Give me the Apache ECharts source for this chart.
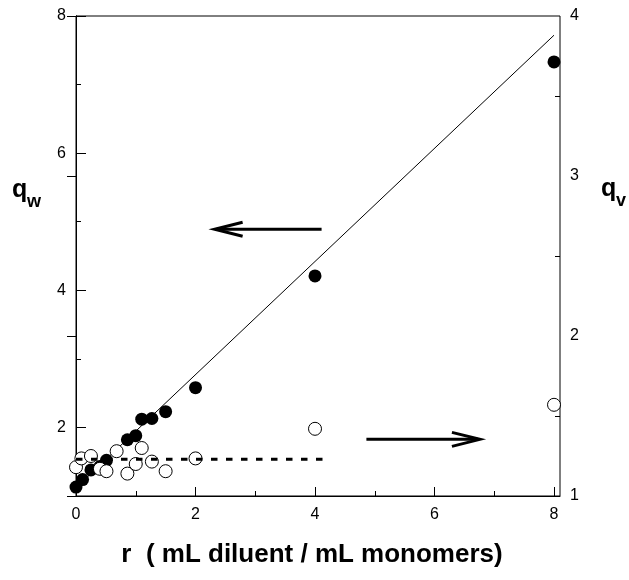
<!DOCTYPE html>
<html>
<head>
<meta charset="utf-8">
<script src="https://cdn.jsdelivr.net/npm/echarts@6/dist/echarts.min.js"></script>
<style>
  html, body { margin: 0; padding: 0; background: #fff; }
  #chart { width: 629px; height: 580px; }
</style>
</head>
<body>
<div id="chart"></div>
<script>
// Dilution ratio r (mL diluent / mL monomers)
const R_QW = [0, 0.11, 0.25, 0.4, 0.51, 0.86, 1.0, 1.1, 1.27, 1.5, 2.0, 4.0, 8.0];
// Weight swelling ratio q_w (left axis)
const QW = [1.13, 1.24, 1.38, 1.43, 1.52, 1.82, 1.88, 2.12, 2.13, 2.23, 2.58, 4.21, 7.33];

const R_QV = [0, 0.09, 0.25, 0.4, 0.51, 0.68, 0.86, 1.0, 1.1, 1.27, 1.5, 2.0, 4.0, 8.0];
// Volume swelling ratio q_v (right axis)
const QV = [1.18, 1.235, 1.25, 1.17, 1.155, 1.28, 1.14, 1.20, 1.30, 1.215, 1.155, 1.235, 1.42, 1.57];

// Linear fit of q_w and mean level of q_v
const FIT_R = [0, 8];
const FIT_QW = [1.12, 7.72];
const MEAN_R = [0, 4.22];
const MEAN_QV = [1.23, 1.23];

// Arrows pointing at the axis each series belongs to: [fromR, fromQ, toR, toQ]
const ARROW_QW = [[4.11, 4.89, 2.32, 4.89]];
const ARROW_QV = [[4.86, 1.354, 6.76, 1.354]];

// Axis ticks and labels
const X_TICKS = [0, 2, 4, 6, 8];
const X_MINOR = [1, 3, 5, 7];
const QW_TICKS = [2, 4, 6, 8];
const QW_MINOR = [3, 5, 7];
const QV_TICKS = [1, 2, 3, 4];
const QV_MINOR = [1.5, 2.5, 3.5];

const zip = (xs, ys) => xs.map((x, i) => [x, ys[i]]);

const FONT = '"Liberation Sans", Arial, Helvetica, sans-serif';
const labelStyle = { color: '#000', fontSize: 16, fontFamily: FONT };

function renderArrow(params, api) {
  const a = api.coord([api.value(0), api.value(1)]);
  const b = api.coord([api.value(2), api.value(3)]);
  const dx = b[0] - a[0], dy = b[1] - a[1];
  const len = Math.hypot(dx, dy);
  const ux = dx / len, uy = dy / len;
  const headLen = 28, headHalf = 7;
  const back = [b[0] - ux * headLen, b[1] - uy * headLen];
  const p1 = [back[0] - uy * headHalf, back[1] + ux * headHalf];
  const p2 = [back[0] + uy * headHalf, back[1] - ux * headHalf];
  return {
    type: 'group',
    children: [
      { type: 'line', shape: { x1: a[0], y1: a[1], x2: b[0] - ux * 2, y2: b[1] - uy * 2 },
        style: { stroke: '#000', lineWidth: 3 } },
      { type: 'polyline', shape: { points: [p1, b, p2] },
        style: { stroke: '#000', lineWidth: 3, fill: null, lineJoin: 'miter' } }
    ]
  };
}

const chart = echarts.init(document.getElementById('chart'), null, { renderer: 'canvas' });

const xBase = { type: 'value', min: 0, max: 8.1, position: 'bottom', splitLine: { show: false } };
const majorTick = (vals, len) => ({ show: true, inside: true, length: len, customValues: vals,
  lineStyle: { color: '#000', width: 1 } });

chart.setOption({
  animation: false,
  backgroundColor: '#fff',
  grid: { left: 76, right: 69, top: 16, bottom: 84, show: true, borderColor: '#000', borderWidth: 1,
          containLabel: false },
  xAxis: [
    Object.assign({}, xBase, {
      axisLine: { show: true, lineStyle: { color: '#000', width: 1 } },
      axisTick: majorTick(X_TICKS, 9),
      axisLabel: Object.assign({ customValues: X_TICKS, margin: 11 }, labelStyle)
    }),
    Object.assign({}, xBase, {
      axisLine: { show: false },
      axisTick: majorTick(X_MINOR, 5),
      axisLabel: { show: false }
    })
  ],
  yAxis: [
    { type: 'value', min: 1, max: 8, position: 'left', splitLine: { show: false },
      axisLine: { show: true, lineStyle: { color: '#000', width: 1 } },
      axisTick: majorTick(QW_TICKS, 10),
      axisLabel: Object.assign({ customValues: QW_TICKS, margin: 10 }, labelStyle) },
    { type: 'value', min: 1, max: 4, position: 'right', splitLine: { show: false },
      axisLine: { show: true, lineStyle: { color: '#000', width: 1 } },
      axisTick: majorTick(QV_TICKS, 9),
      axisLabel: Object.assign({ customValues: QV_TICKS, margin: 10 }, labelStyle) },
    { type: 'value', min: 1, max: 8, position: 'left', splitLine: { show: false },
      axisLine: { show: false }, axisTick: majorTick(QW_MINOR, 5), axisLabel: { show: false } },
    { type: 'value', min: 1, max: 4, position: 'right', splitLine: { show: false },
      axisLine: { show: false }, axisTick: majorTick(QV_MINOR, 5), axisLabel: { show: false } }
  ],
  series: [
    { name: 'fit q_w', type: 'line', xAxisIndex: 0, yAxisIndex: 0, data: zip(FIT_R, FIT_QW),
      showSymbol: false, symbol: 'none', lineStyle: { color: '#000', width: 1 }, z: 2 },
    { name: 'q_w', type: 'scatter', xAxisIndex: 0, yAxisIndex: 0, data: zip(R_QW, QW),
      symbol: 'circle', symbolSize: 13, itemStyle: { color: '#000', opacity: 1 }, z: 3 },
    { name: 'q_v', type: 'scatter', xAxisIndex: 0, yAxisIndex: 1, data: zip(R_QV, QV),
      symbol: 'circle', symbolSize: 13,
      itemStyle: { color: '#fff', borderColor: '#000', borderWidth: 1, opacity: 1 }, z: 4 },
    { name: 'mean q_v', type: 'line', xAxisIndex: 0, yAxisIndex: 1, data: zip(MEAN_R, MEAN_QV),
      showSymbol: false, symbol: 'none',
      lineStyle: { color: '#000', width: 3, type: [6.5, 8.5], cap: 'butt' }, z: 5 },
    { name: 'arrow q_w', type: 'custom', xAxisIndex: 0, yAxisIndex: 0, data: ARROW_QW,
      encode: { x: [0, 2], y: [1, 3] }, renderItem: renderArrow, z: 6 },
    { name: 'arrow q_v', type: 'custom', xAxisIndex: 0, yAxisIndex: 1, data: ARROW_QV,
      encode: { x: [0, 2], y: [1, 3] }, renderItem: renderArrow, z: 6 }
  ],
  graphic: [
    { type: 'text', x: 12, y: 190, style: { text: 'q', fill: '#000',
      font: 'bold 25px ' + FONT, verticalAlign: 'middle', align: 'left' } },
    { type: 'text', x: 27, y: 202, style: { text: 'w', fill: '#000',
      font: 'bold 18px ' + FONT, verticalAlign: 'middle', align: 'left' } },
    { type: 'text', x: 601, y: 189, style: { text: 'q', fill: '#000',
      font: 'bold 25px ' + FONT, verticalAlign: 'middle', align: 'left' } },
    { type: 'text', x: 616, y: 201, style: { text: 'v', fill: '#000',
      font: 'bold 18px ' + FONT, verticalAlign: 'middle', align: 'left' } },
    { type: 'text', x: 312, y: 555, style: { text: 'r  ( mL diluent / mL monomers)', fill: '#000',
      font: 'bold 26px ' + FONT, verticalAlign: 'middle', align: 'center' } }
  ]
});
</script>
</body>
</html>
